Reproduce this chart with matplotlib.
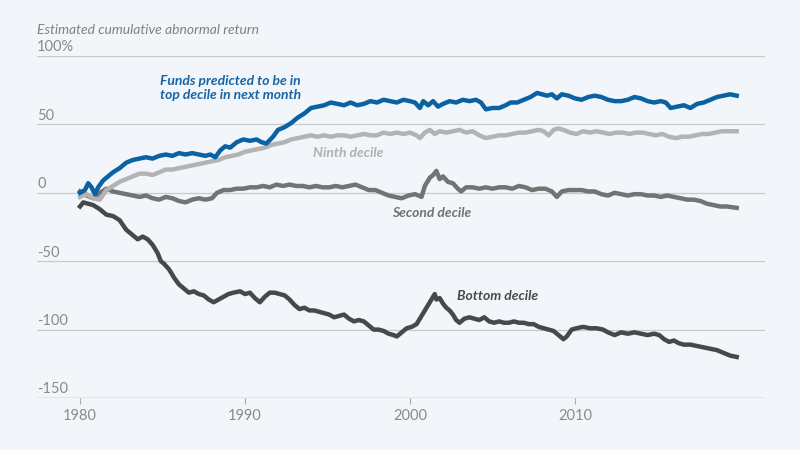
import matplotlib
matplotlib.use("Agg")
import matplotlib.pyplot as plt
from matplotlib import font_manager

# ---------------- data ----------------
top_years = [1980.0,1980.3,1980.5,1980.7,1980.9,1981.1,1981.4,1981.7,1982.0,1982.4,1982.8,1983.2,1983.6,1984.0,1984.4,1984.8,
             1985.2,1985.6,1986.0,1986.4,1986.8,1987.2,1987.6,1987.9,1988.2,1988.5,1988.8,1989.1,1989.5,1989.9,1990.3,1990.7,
             1991.0,1991.3,1991.7,1992.0,1992.4,1992.8,1993.2,1993.6,1994.0,1994.4,1994.8,1995.2,1995.6,1996.0,1996.4,1996.8,
             1997.2,1997.6,1998.0,1998.4,1998.8,1999.2,1999.6,2000.0,2000.3,2000.6,2000.8,2001.1,2001.4,2001.7,2002.0,2002.4,
             2002.8,2003.2,2003.6,2004.0,2004.3,2004.6,2005.0,2005.4,2005.8,2006.1,2006.5,2006.9,2007.3,2007.7,2008.0,2008.3,
             2008.6,2008.9,2009.2,2009.6,2010.0,2010.4,2010.8,2011.2,2011.6,2012.0,2012.4,2012.8,2013.2,2013.6,2014.0,2014.4,
             2014.8,2015.2,2015.5,2015.8,2016.2,2016.6,2017.0,2017.4,2017.8,2018.2,2018.6,2019.0,2019.4,2019.8]
top_vals = [0,2,7,4,-1,4,9,12,15,18,22,24,25,26,25,27,
            28,27,29,28,29,28,27,28,26,31,34,33,37,39,38,39,
            37,36,41,46,48,51,55,58,62,63,64,66,65,64,66,64,
            65,67,66,68,67,66,68,67,66,62,67,64,67,63,65,67,
            66,68,67,68,66,61,62,62,64,66,66,68,70,73,72,71,
            72,69,72,71,69,68,70,71,70,68,67,67,68,70,69,67,
            66,67,66,62,63,64,62,65,66,68,70,71,72,71]

ninth_years = [1980.0,1980.4,1980.8,1981.2,1981.6,1982.0,1982.4,1982.8,1983.2,1983.6,1984.0,1984.4,1984.8,1985.2,1985.6,1986.0,
               1986.4,1986.8,1987.2,1987.6,1988.0,1988.4,1988.8,1989.2,1989.6,1990.0,1990.4,1990.8,1991.2,1991.6,1992.0,1992.4,
               1992.8,1993.2,1993.6,1994.0,1994.4,1994.8,1995.2,1995.6,1996.0,1996.4,1996.8,1997.2,1997.6,1998.0,1998.4,1998.8,
               1999.2,1999.6,2000.0,2000.4,2000.6,2000.9,2001.2,2001.5,2001.8,2002.2,2002.6,2003.0,2003.4,2003.8,2004.2,2004.6,
               2005.0,2005.4,2005.8,2006.2,2006.6,2007.0,2007.4,2007.8,2008.1,2008.4,2008.7,2009.0,2009.3,2009.7,2010.1,2010.5,
               2010.9,2011.3,2011.7,2012.1,2012.5,2012.9,2013.3,2013.7,2014.1,2014.5,2014.9,2015.3,2015.7,2016.1,2016.5,2016.9,
               2017.3,2017.7,2018.1,2018.5,2018.9,2019.3,2019.8]
ninth_vals = [-3,-1,-4,-5,2,5,8,10,12,14,14,13,15,17,17,18,
              19,20,21,22,23,24,26,27,28,30,31,32,33,35,36,37,
              39,40,41,42,41,42,41,42,42,41,42,43,42,42,44,43,
              44,43,44,42,40,44,46,43,45,44,45,46,44,45,42,40,
              41,42,42,43,44,44,45,46,45,42,46,47,46,44,43,45,
              44,45,44,43,44,44,43,44,44,43,42,43,41,40,41,41,
              42,43,43,44,45,45,45]

second_years = [1980.0,1980.4,1980.8,1981.2,1981.6,1982.0,1982.4,1982.8,1983.2,1983.6,1984.0,1984.4,1984.8,1985.2,1985.6,1986.0,
                1986.4,1986.8,1987.2,1987.6,1988.0,1988.3,1988.7,1989.1,1989.5,1989.9,1990.3,1990.7,1991.1,1991.5,1991.9,1992.3,
                1992.7,1993.1,1993.5,1993.9,1994.3,1994.7,1995.1,1995.5,1995.9,1996.3,1996.7,1997.1,1997.5,1997.9,1998.3,1998.7,
                1999.1,1999.5,1999.9,2000.3,2000.7,2000.9,2001.2,2001.4,2001.6,2001.8,2002.0,2002.3,2002.6,2002.9,2003.1,2003.4,
                2003.8,2004.2,2004.6,2005.0,2005.4,2005.8,2006.2,2006.6,2007.0,2007.4,2007.8,2008.2,2008.6,2008.9,2009.2,2009.6,
                2010.0,2010.4,2010.8,2011.2,2011.6,2012.0,2012.4,2012.8,2013.2,2013.6,2014.0,2014.4,2014.8,2015.2,2015.6,2016.0,
                2016.4,2016.8,2017.2,2017.6,2018.0,2018.4,2018.8,2019.2,2019.8]
second_vals = [1,-2,-4,0,3,1,0,-1,-2,-3,-2,-4,-5,-3,-4,-6,
               -7,-5,-4,-5,-4,0,2,2,3,3,4,4,5,4,6,5,
               6,5,5,4,5,4,4,5,4,5,6,4,2,2,0,-2,
               -3,-4,-2,-1,-3,5,11,13,16,10,12,8,7,3,1,4,
               4,3,4,3,4,4,3,5,4,2,3,3,1,-3,1,2,
               2,2,1,1,-1,-2,0,-1,-2,-1,-1,-2,-2,-3,-2,-3,
               -4,-5,-5,-6,-8,-9,-10,-10,-11]

bottom_years = [1980.0,1980.2,1980.5,1980.8,1981.2,1981.6,1982.0,1982.4,1982.8,1983.1,1983.5,1983.8,1984.1,1984.4,1984.7,1984.9,
                1985.1,1985.4,1985.7,1986.0,1986.3,1986.6,1986.9,1987.2,1987.5,1987.8,1988.1,1988.4,1988.7,1989.0,1989.3,1989.7,
                1990.0,1990.3,1990.6,1990.9,1991.2,1991.5,1991.8,1992.1,1992.4,1992.7,1993.0,1993.3,1993.6,1993.9,1994.2,1994.5,
                1994.8,1995.1,1995.4,1995.7,1996.0,1996.3,1996.6,1996.9,1997.2,1997.5,1997.8,1998.1,1998.4,1998.7,1999.0,1999.2,
                1999.5,1999.8,2000.1,2000.4,2000.6,2000.8,2001.0,2001.2,2001.4,2001.5,2001.6,2001.8,2002.0,2002.2,2002.4,2002.6,
                2002.8,2003.0,2003.3,2003.6,2003.9,2004.2,2004.5,2004.8,2005.1,2005.4,2005.7,2006.0,2006.3,2006.6,2006.9,2007.2,
                2007.5,2007.8,2008.1,2008.4,2008.7,2009.0,2009.3,2009.5,2009.8,2010.1,2010.5,2010.9,2011.3,2011.7,2012.0,2012.4,
                2012.8,2013.2,2013.6,2014.0,2014.4,2014.8,2015.1,2015.4,2015.7,2016.0,2016.3,2016.6,2017.0,2017.4,2017.8,2018.2,
                2018.6,2019.0,2019.4,2019.8]
bottom_vals = [-10,-7,-8,-9,-12,-16,-17,-20,-27,-30,-34,-32,-34,-38,-44,-50,
               -52,-56,-62,-67,-70,-73,-72,-74,-75,-78,-80,-78,-76,-74,-73,-72,
               -74,-73,-77,-80,-76,-73,-73,-74,-75,-78,-82,-85,-84,-86,-86,-87,
               -88,-89,-91,-90,-89,-92,-94,-93,-94,-97,-100,-100,-101,-103,-104,-105,
               -102,-99,-98,-96,-92,-88,-84,-80,-76,-74,-78,-77,-81,-84,-86,-89,
               -93,-95,-92,-91,-92,-93,-91,-94,-95,-94,-95,-95,-94,-95,-95,-96,
               -96,-98,-99,-100,-101,-104,-107,-105,-100,-99,-98,-99,-99,-100,-102,-104,
               -102,-103,-102,-103,-104,-103,-104,-107,-109,-108,-110,-111,-111,-112,-113,-114,
               -115,-117,-119,-120]

y_ticks = [100, 50, 0, -50, -100, -150]
y_tick_labels = ["100%", "50", "0", "-50", "-100", "-150"]
x_ticks = [1980, 1990, 2000, 2010]
x_tick_labels = ["1980", "1990", "2000", "2010"]

title = "Estimated cumulative abnormal return"
label_top = "Funds predicted to be in\ntop decile in next month"
label_ninth = "Ninth decile"
label_second = "Second decile"
label_bottom = "Bottom decile"

# ---------------- style ----------------
bg = "#f2f6fa"
c_top = "#0a62a3"
c_ninth = "#b3b3b3"
c_second = "#737373"
c_bottom = "#47484a"
c_text = "#8a8a8a"

names = {f.name for f in font_manager.fontManager.ttflist}
narrow = "Liberation Sans Narrow" if "Liberation Sans Narrow" in names else "Lato"

plt.rcParams['font.family'] = ['Lato', 'DejaVu Sans']

fig = plt.figure(figsize=(8, 4.5), dpi=100, facecolor=bg)
ax = fig.add_axes([37/800, 1-398/450, 728/800, (398-56)/450])
ax.set_facecolor(bg)

ax.set_xlim(1980 - 43/16.5, 1980 + 685/16.5)
ax.set_ylim(-150, 100)

for s in ax.spines.values():
    s.set_visible(False)

for v in y_ticks:
    if v == -150:
        ax.axhline(v, color="#a8a8a8", lw=1.0, zorder=1)
    else:
        ax.axhline(v, color="#c9c9c9", lw=0.9, zorder=1)

ax.set_yticks([])
ax.set_xticks(x_ticks)
ax.set_xticklabels(x_tick_labels, family=[narrow, 'Lato'], fontsize=10.5, color=c_text)
ax.tick_params(axis='x', length=4, width=0.8, color="#a8a8a8", pad=4)

ytr = ax.get_yaxis_transform()
for v, lab in zip(y_ticks, y_tick_labels):
    ax.text(0.0, v + 1.2, lab, transform=ytr, ha='left', va='bottom',
            family=[narrow, 'Lato'], fontsize=10.5, color=c_text)

lw = 3.2
ax.plot(bottom_years, bottom_vals, color=c_bottom, lw=lw, zorder=3, solid_joinstyle='round')
ax.plot(second_years, second_vals, color=c_second, lw=lw, zorder=4, solid_joinstyle='round')
ax.plot(ninth_years, ninth_vals, color=c_ninth, lw=lw, zorder=5, solid_joinstyle='round')
ax.plot(top_years, top_vals, color=c_top, lw=lw, zorder=6, solid_joinstyle='round')

fig.text(37/800, 1-30/450, title, ha='left', va='center', style='italic',
         fontsize=10, color="#808080")

def px(x, y):
    return (x/800, 1-y/450)

fig.text(*px(301, 88), label_top, ha='right', va='center', style='italic', weight='bold',
         fontsize=10, color="#1765a5", linespacing=1.25)
fig.text(*px(313, 153), label_ninth, ha='left', va='center', style='italic', weight='bold',
         fontsize=10, color="#b0b0b0")
fig.text(*px(392, 213), label_second, ha='left', va='center', style='italic', weight='bold',
         fontsize=10, color="#727272")
fig.text(*px(457, 296), label_bottom, ha='left', va='center', style='italic', weight='bold',
         fontsize=10, color="#4a4a4a")

fig.savefig("out.png", dpi=100, facecolor=bg)
